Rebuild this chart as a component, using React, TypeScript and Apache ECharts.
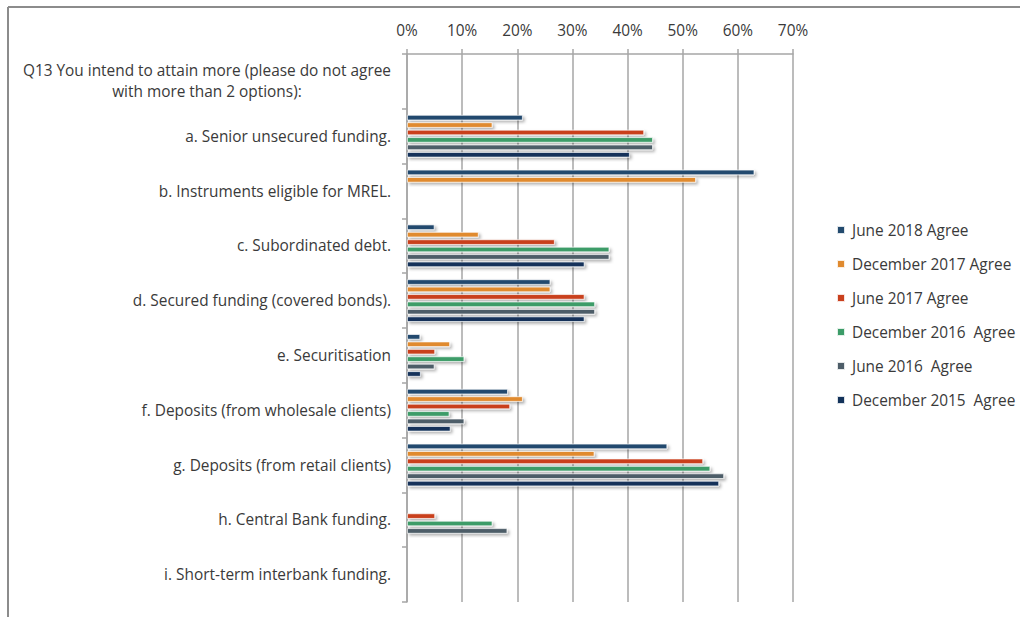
import React, { useEffect, useRef } from "react";
import * as echarts from "echarts";

const categories = [
  "Q13 You intend to attain more (please do not agree\nwith more than 2 options):",
  "a. Senior unsecured funding.",
  "b. Instruments eligible for MREL.",
  "c. Subordinated debt.",
  "d. Secured funding (covered bonds).",
  "e. Securitisation",
  "f. Deposits (from wholesale clients)",
  "g. Deposits (from retail clients)",
  "h. Central Bank funding.",
  "i. Short-term interbank funding.",
];

const seriesNames = [
  "June 2018 Agree",
  "December 2017 Agree",
  "June 2017 Agree",
  "December 2016  Agree",
  "June 2016  Agree",
  "December 2015  Agree",
];

const june2018 = [0, 0.21, 0.63, 0.05, 0.26, 0.024, 0.183, 0.472, 0, 0];
const dec2017 = [0, 0.155, 0.524, 0.13, 0.26, 0.078, 0.21, 0.34, 0, 0];
const june2017 = [0, 0.43, 0, 0.268, 0.322, 0.051, 0.187, 0.537, 0.051, 0];
const dec2016 = [0, 0.446, 0, 0.367, 0.341, 0.104, 0.077, 0.55, 0.155, 0];
const june2016 = [0, 0.446, 0, 0.367, 0.341, 0.05, 0.104, 0.575, 0.182, 0];
const dec2015 = [0, 0.404, 0, 0.322, 0.322, 0.025, 0.079, 0.566, 0, 0];

const seriesValues = [june2018, dec2017, june2017, dec2016, june2016, dec2015];
const colors = ["#234A6E", "#E08A2F", "#C9401D", "#3C9C68", "#4D5D68", "#13325A"];

const FONT = "'Open Sans', 'Noto Sans', sans-serif";
const AXIS_GRAY = "#A6A6A6";
const TEXT = "#3A3A3A";
const FS = 15.4;

export default function App() {
  const ref = useRef<HTMLDivElement>(null);
  useEffect(() => {
    if (!ref.current) return;
    const chart = echarts.init(ref.current, null, { renderer: "svg" });
    chart.setOption({
      animation: false,
      backgroundColor: "#ffffff",
      textStyle: { fontFamily: FONT },
      grid: { left: 407, right: 227, top: 54, bottom: 15, containLabel: false },
      legend: {
        orient: "vertical",
        left: 836,
        top: 222,
        padding: 0,
        itemWidth: 8,
        itemHeight: 8,
        itemGap: 18,
        icon: "rect",
        data: seriesNames,
        textStyle: { fontFamily: FONT, fontSize: FS, lineHeight: 16, color: TEXT, padding: [0, 0, 0, 2] },
      },
      xAxis: {
        type: "value",
        position: "top",
        min: 0,
        max: 0.7,
        interval: 0.1,
        axisLine: { show: true, lineStyle: { color: AXIS_GRAY, width: 1.5 } },
        axisTick: { show: true, inside: false, length: 5, lineStyle: { color: AXIS_GRAY, width: 1.5 } },
        splitLine: { show: true, lineStyle: { color: AXIS_GRAY, width: 1.5 } },
        axisLabel: {
          margin: 16,
          fontFamily: FONT,
          fontSize: FS,
          color: TEXT,
          formatter: (v: number) => Math.round(v * 100) + "%",
        },
      },
      yAxis: {
        type: "category",
        inverse: true,
        data: categories,
        axisLine: { show: true, lineStyle: { color: AXIS_GRAY, width: 1.5 } },
        axisTick: { show: true, inside: false, length: 5, lineStyle: { color: AXIS_GRAY, width: 1.5 } },
        splitLine: { show: false },
        axisLabel: {
          margin: 16,
          fontFamily: FONT,
          fontSize: FS,
          color: TEXT,
          align: "right",
          formatter: (v: string) => {
            if (v.indexOf("\n") >= 0) {
              return v
                .split("\n")
                .map((s) => "{q|" + s + "}")
                .join("\n");
            }
            return v;
          },
          rich: {
            q: { align: "center", fontFamily: FONT, fontSize: FS, color: TEXT, lineHeight: 21 },
          },
        },
      },
      series: seriesNames.map((name, i) => ({
        name,
        type: "bar",
        barWidth: 5.5,
        barGap: "35%",
        data: seriesValues[i].map((v) => (v === 0 ? "-" : v)),
        itemStyle: {
          color: colors[i],
          borderColor: "rgba(255,255,255,0.85)",
          borderWidth: 0.8,
          shadowColor: "rgba(0,0,0,0.3)",
          shadowBlur: 3,
          shadowOffsetX: 2,
          shadowOffsetY: 2,
        },
      })),
      graphic: [
        {
          type: "line",
          shape: { x1: 8, y1: 7, x2: 1020, y2: 7 },
          style: { stroke: "#8C8C8C", lineWidth: 2 },
        },
        {
          type: "line",
          shape: { x1: 8, y1: 7, x2: 8, y2: 617 },
          style: { stroke: "#8C8C8C", lineWidth: 2 },
        },
      ],
    });
    return () => chart.dispose();
  }, []);
  return (
    <div
      ref={ref}
      style={{ position: "fixed", left: 0, top: 0, width: 1020, height: 617, background: "#fff" }}
    />
  );
}
